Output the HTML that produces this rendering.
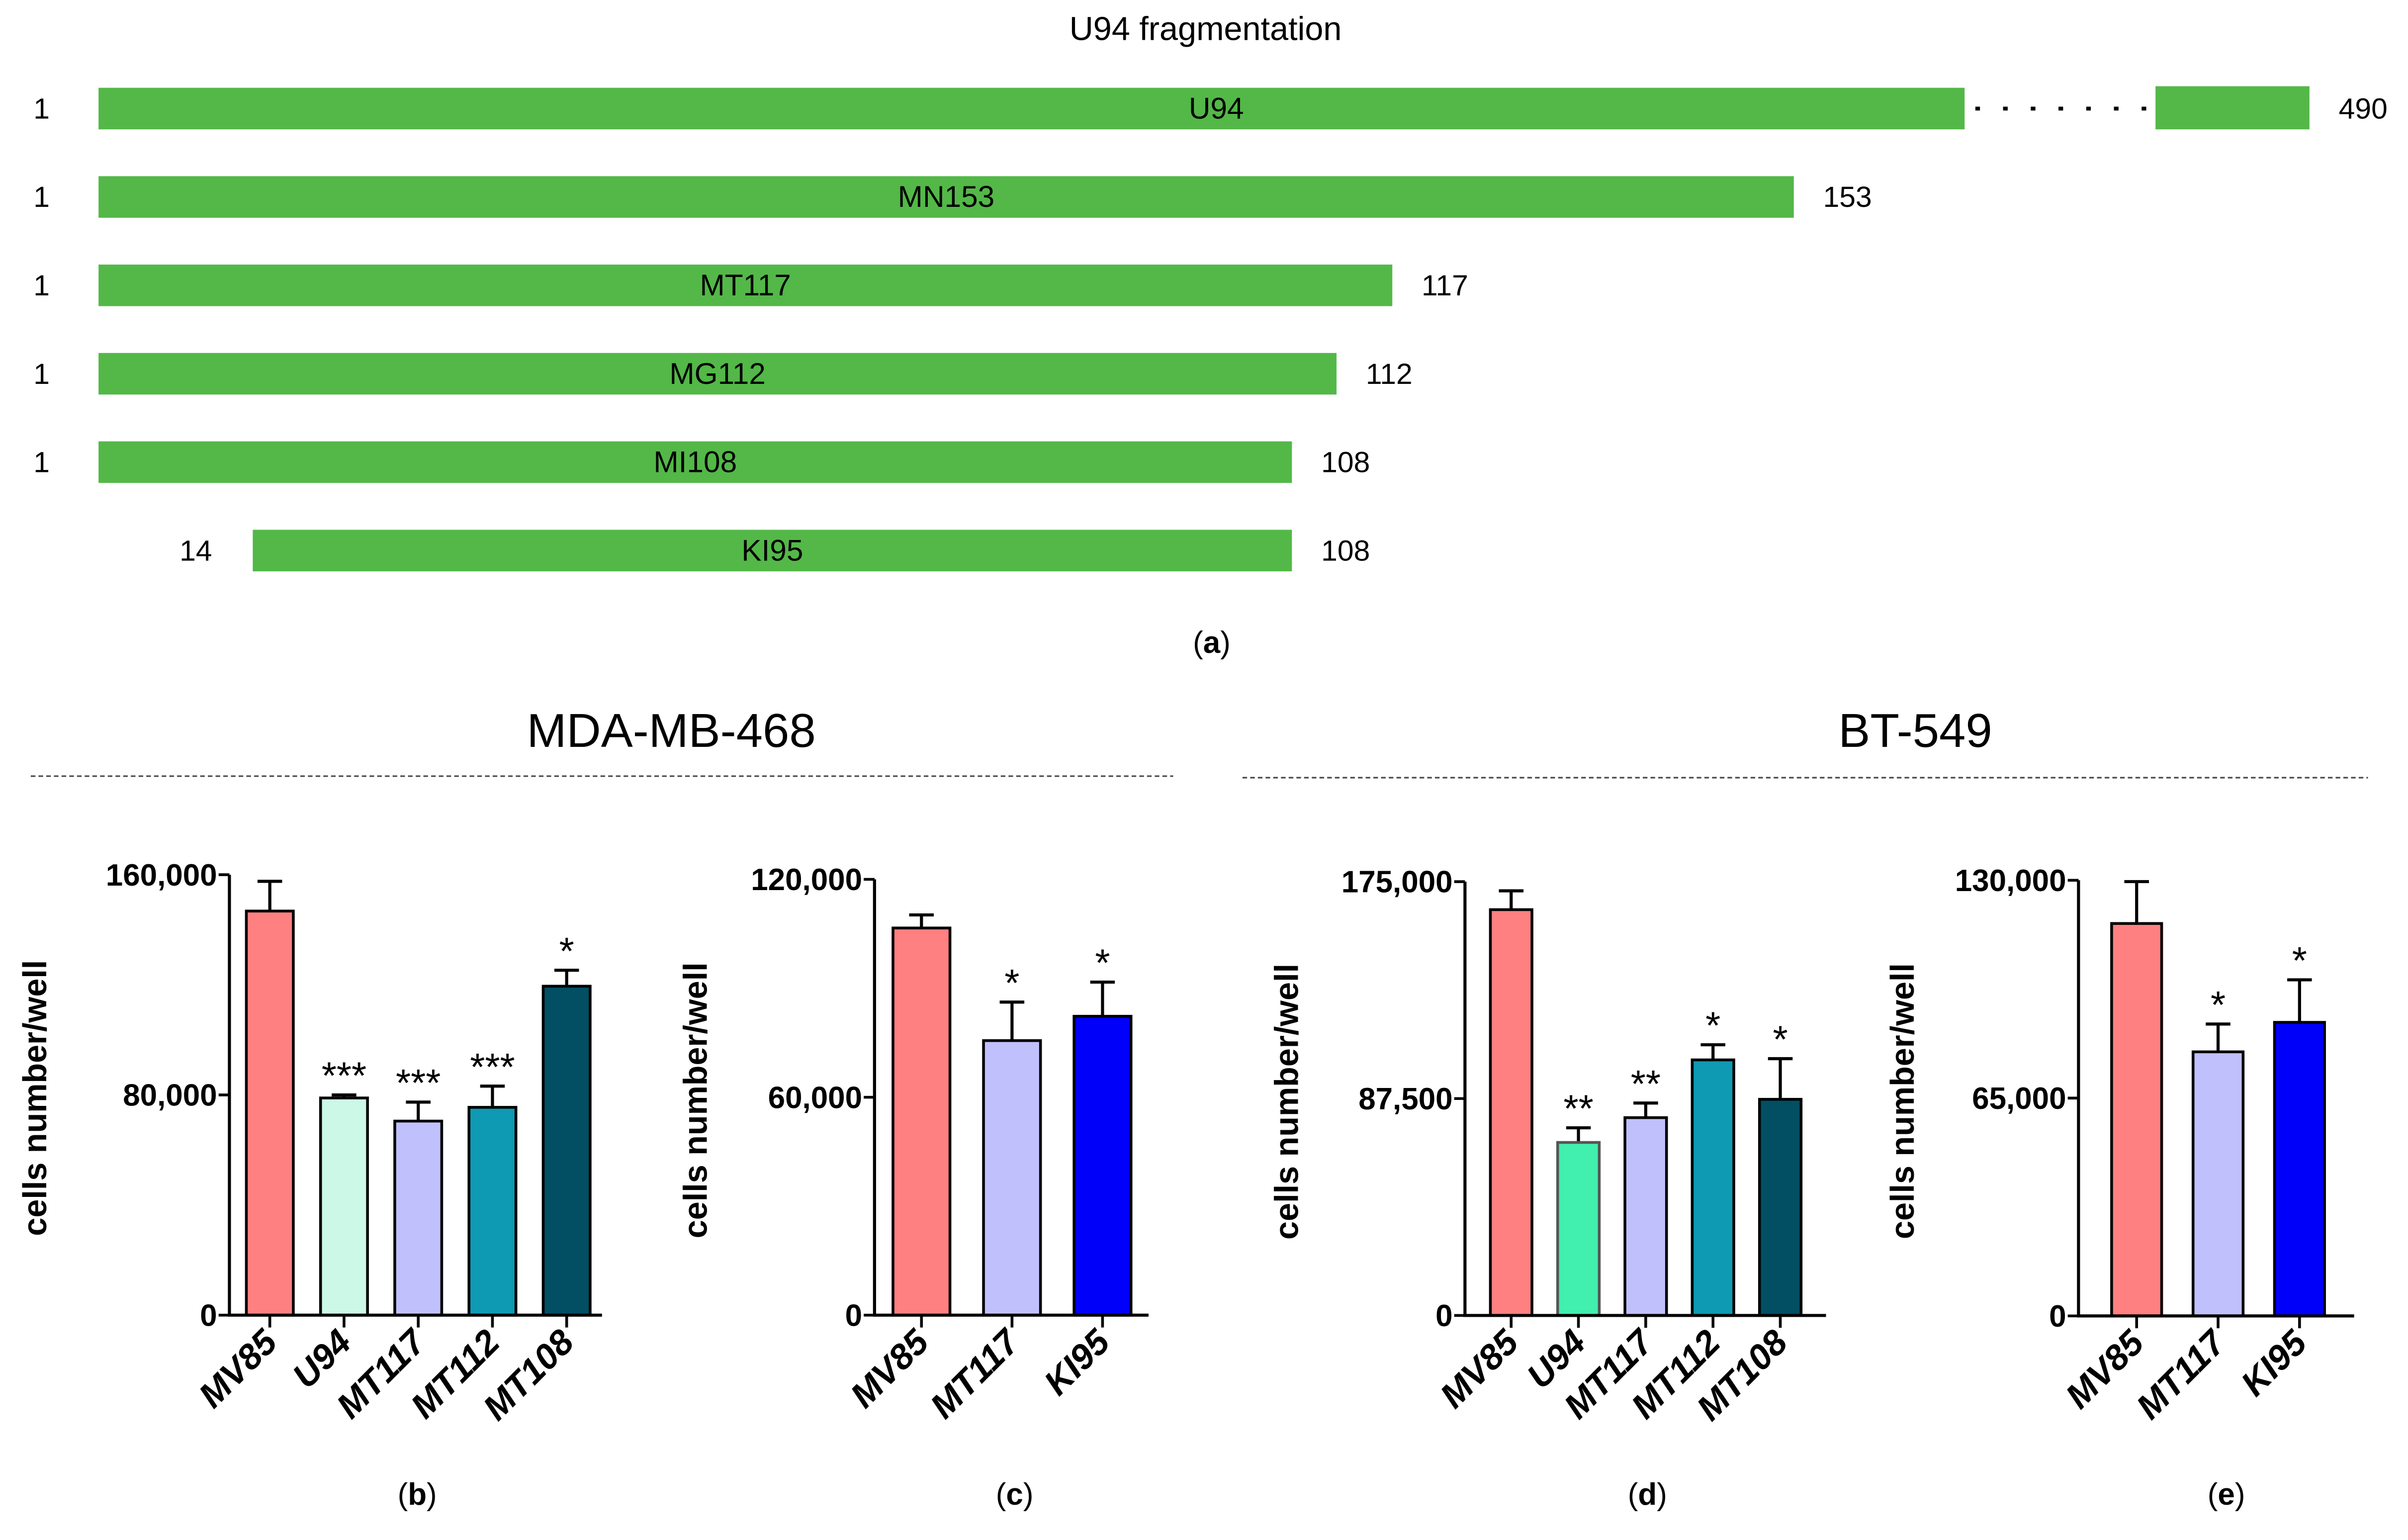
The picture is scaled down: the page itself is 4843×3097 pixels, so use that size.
<!DOCTYPE html>
<html><head><meta charset="utf-8"><style>
html,body{margin:0;padding:0;background:#fff;}
svg{display:block;}
text{font-family:"Liberation Sans",sans-serif;}
</style></head><body>
<svg id="fig" width="4843" height="3097" viewBox="0 0 1564 1000" preserveAspectRatio="none" xmlns="http://www.w3.org/2000/svg">
<rect width="1564" height="1000" fill="#fff"/>
<text x="783" y="26" font-size="21.5" text-anchor="middle">U94 fragmentation</text>
<g id="frag"></g>
<text x="787" y="424" font-size="20" text-anchor="middle">(<tspan font-weight="bold">a</tspan>)</text>
<text x="436" y="485" font-size="31" text-anchor="middle">MDA-MB-468</text>
<text x="1244" y="485" font-size="31" text-anchor="middle">BT-549</text>
<line x1="20" y1="504" x2="762" y2="504" stroke="#444" stroke-width="1" stroke-dasharray="3,2"/>
<line x1="807" y1="505" x2="1538" y2="505" stroke="#444" stroke-width="1" stroke-dasharray="3,2"/>
<g id="charts"></g>
</svg>
<script>
const NS="http://www.w3.org/2000/svg";
function mk(tag,attrs,parent,txt){const e=document.createElementNS(NS,tag);for(const k in attrs)e.setAttribute(k,attrs[k]);if(txt!==undefined)e.textContent=txt;parent.appendChild(e);return e;}

// ---- fragment diagram data ----
const fragNames=["U94","MN153","MT117","MG112","MI108","KI95"];
const fragStart=[1,1,1,1,1,14];
const fragEnd=[490,153,117,112,108,108];
const fragStartLabels=["1","1","1","1","1","14"];
const fragEndLabels=["490","153","117","112","108","108"];
function resX(r){return 64+(r-1)*7.244;}
const frag=document.getElementById('frag');
for(let i=0;i<fragNames.length;i++){
  const y=57+i*57.4, h=27;
  let x0=resX(fragStart[i]) + (fragStart[i]>1?6:0), x1;
  if(fragEnd[i]>153){x1=1276;}else{x1=resX(fragEnd[i]);}
  const g=mk('g',{},frag);
  
  
  const r=mk('rect',{x:x0,y:y,width:x1-x0,height:h,fill:"#53b848"},g);
  
  
  let endX=x1;
  if(fragEnd[i]>153){
    const d=mk('line',{x1:1283,y1:y+13.5,x2:1398,y2:y+13.5,stroke:"#000","stroke-width":2.5,"stroke-dasharray":"3,15"},g);
    
    
    const r2=mk('rect',{x:1400,y:y-1,width:100,height:h+1,fill:"#53b848"},g);
    
    
    endX=1500;
  }
  const t=mk('text',{x:(i==0?790:(x0+x1)/2),y:y+20,"font-size":19.5,"text-anchor":"middle"},g,fragNames[i]);
  
  
  const s=mk('text',{x:x0-37,y:y+20,"font-size":19,"text-anchor":"middle"},g,fragStartLabels[i]);
  
  
  const e=mk('text',{x:endX+19,y:y+20,"font-size":19,"text-anchor":"start"},g,fragEndLabels[i]);
  
  
}

// ---- bar chart data ----
const catsB=["MV85","U94","MT117","MT112","MT108"];
const valsB=[146800,78900,70500,75500,119500];
const errB=[10800,1100,6900,7700,5800];
const sigB=["","***","***","***","*"];
const ticksB=[0,80000,160000];
const tickLabelsB=["0","80,000","160,000"];

const catsC=["MV85","MT117","KI95"];
const valsC=[106600,75600,82300];
const errC=[3600,10600,9400];
const sigC=["","*","*"];
const ticksC=[0,60000,120000];
const tickLabelsC=["0","60,000","120,000"];

const catsD=["MV85","U94","MT117","MT112","MT108"];
const valsD=[163700,69800,79800,103100,87200];
const errD=[7600,5900,5900,6100,16400];
const sigD=["","**","**","*","*"];
const ticksD=[0,87500,175000];
const tickLabelsD=["0","87,500","175,000"];

const catsE=["MV85","MT117","KI95"];
const valsE=[117100,78800,87600];
const errE=[12500,8300,12700];
const sigE=["","*","*"];
const ticksE=[0,65000,130000];
const tickLabelsE=["0","65,000","130,000"];

const colors5=["#ff8080","#ccf8e8","#c0c0fc","#0e9ab3","#024f63"];
const colorsD=["#ff8080","#41efaf","#c0c0fc","#0e9ab3","#024f63"];
const colors3=["#ff8080","#c0c0fc","#0000fa"];

function chart(cfg){
  const root=document.getElementById('charts');
  const g=mk('g',{},root);
  
  
  const {ax,top,bot,xEnd,x0,bw,step,max}=cfg;
  const y=v=>bot-(v/max)*(bot-top);
  const xc=i=>x0+i*step+bw/2;
  for(let i=0;i<cfg.cats.length;i++){
    const bx=x0+i*step, by=y(cfg.vals[i]);
    const et=y(cfg.vals[i]+cfg.err[i]);
    const eb=mk('path',{d:`M${xc(i)} ${by} V${et} M${xc(i)-8} ${et} H${xc(i)+8}`,stroke:"#000","stroke-width":2,fill:"none"},g);
    
    
    const r=mk('rect',{x:bx,y:by,width:bw,height:bot-by,fill:cfg.colors[i],stroke:(cfg.strokes&&cfg.strokes[i])||"#000","stroke-width":1.8},g);
    
    
    if(cfg.sig[i]){
      const s=mk('text',{x:xc(i),y:et-4,"font-size":25,"text-anchor":"middle"},g,cfg.sig[i]);
      
      
    }
    const tk=mk('line',{x1:xc(i),y1:bot,x2:xc(i),y2:bot+8,stroke:"#000","stroke-width":1.8},g);
    
    
    const lx=xc(i)+6, ly=bot+19;
    const lt=mk('text',{x:lx,y:ly,"font-size":23,"font-weight":"bold","font-style":"italic","text-anchor":"end",transform:`rotate(-45 ${lx} ${ly})`},g,cfg.cats[i]);
    
    
  }
  const a=mk('path',{d:`M${ax} ${top} V${bot} H${xEnd}`,stroke:"#000","stroke-width":2,fill:"none"},g);
  
  
  for(let j=0;j<cfg.ticks.length;j++){
    const ty=y(cfg.ticks[j]);
    const t=mk('line',{x1:ax-7,y1:ty,x2:ax,y2:ty,stroke:"#000","stroke-width":1.8},g);
    
    
    const tl=mk('text',{x:ax-8,y:ty+7,"font-size":20,"font-weight":"bold","text-anchor":"end"},g,cfg.tickLabels[j]);
    
    
  }
  const yc=(top+bot)/2+2;
  const yt=mk('text',{x:cfg.ytX,y:yc,"font-size":21.5,"font-weight":"bold","text-anchor":"middle",transform:`rotate(-90 ${cfg.ytX} ${yc})`},g,"cells number/well");
  
  
  const pl=mk('text',{x:cfg.plX,y:977,"font-size":20,"text-anchor":"middle"},g);
  
  
  mk('tspan',{},pl,"(");mk('tspan',{"font-weight":"bold"},pl,cfg.letter);mk('tspan',{},pl,")");
}
chart({name:"chart-b-mda",cats:catsB,vals:valsB,err:errB,sig:sigB,ticks:ticksB,tickLabels:tickLabelsB,colors:colors5,
  ax:149,top:568,bot:854,xEnd:391,x0:160,bw:30.5,step:48.2,max:160000,ytX:30,plX:271,letter:"b"});
chart({name:"chart-c-mda",cats:catsC,vals:valsC,err:errC,sig:sigC,ticks:ticksC,tickLabels:tickLabelsC,colors:colors3,
  ax:568,top:571,bot:854,xEnd:746,x0:580,bw:37,step:58.8,max:120000,ytX:459,plX:659,letter:"c"});
chart({name:"chart-d-bt",cats:catsD,vals:valsD,err:errD,sig:sigD,ticks:ticksD,tickLabels:tickLabelsD,colors:colorsD,strokes:["#000","#555","#000","#000","#000"],
  ax:951.5,top:572.5,bot:854.2,xEnd:1186,x0:968,bw:27,step:43.7,max:175000,ytX:843,plX:1070,letter:"d"});
chart({name:"chart-e-bt",cats:catsE,vals:valsE,err:errE,sig:sigE,ticks:ticksE,tickLabels:tickLabelsE,colors:colors3,
  ax:1350,top:571.6,bot:854.5,xEnd:1529,x0:1371.5,bw:32.5,step:52.9,max:130000,ytX:1243,plX:1446,letter:"e"});
</script>
</body></html>
